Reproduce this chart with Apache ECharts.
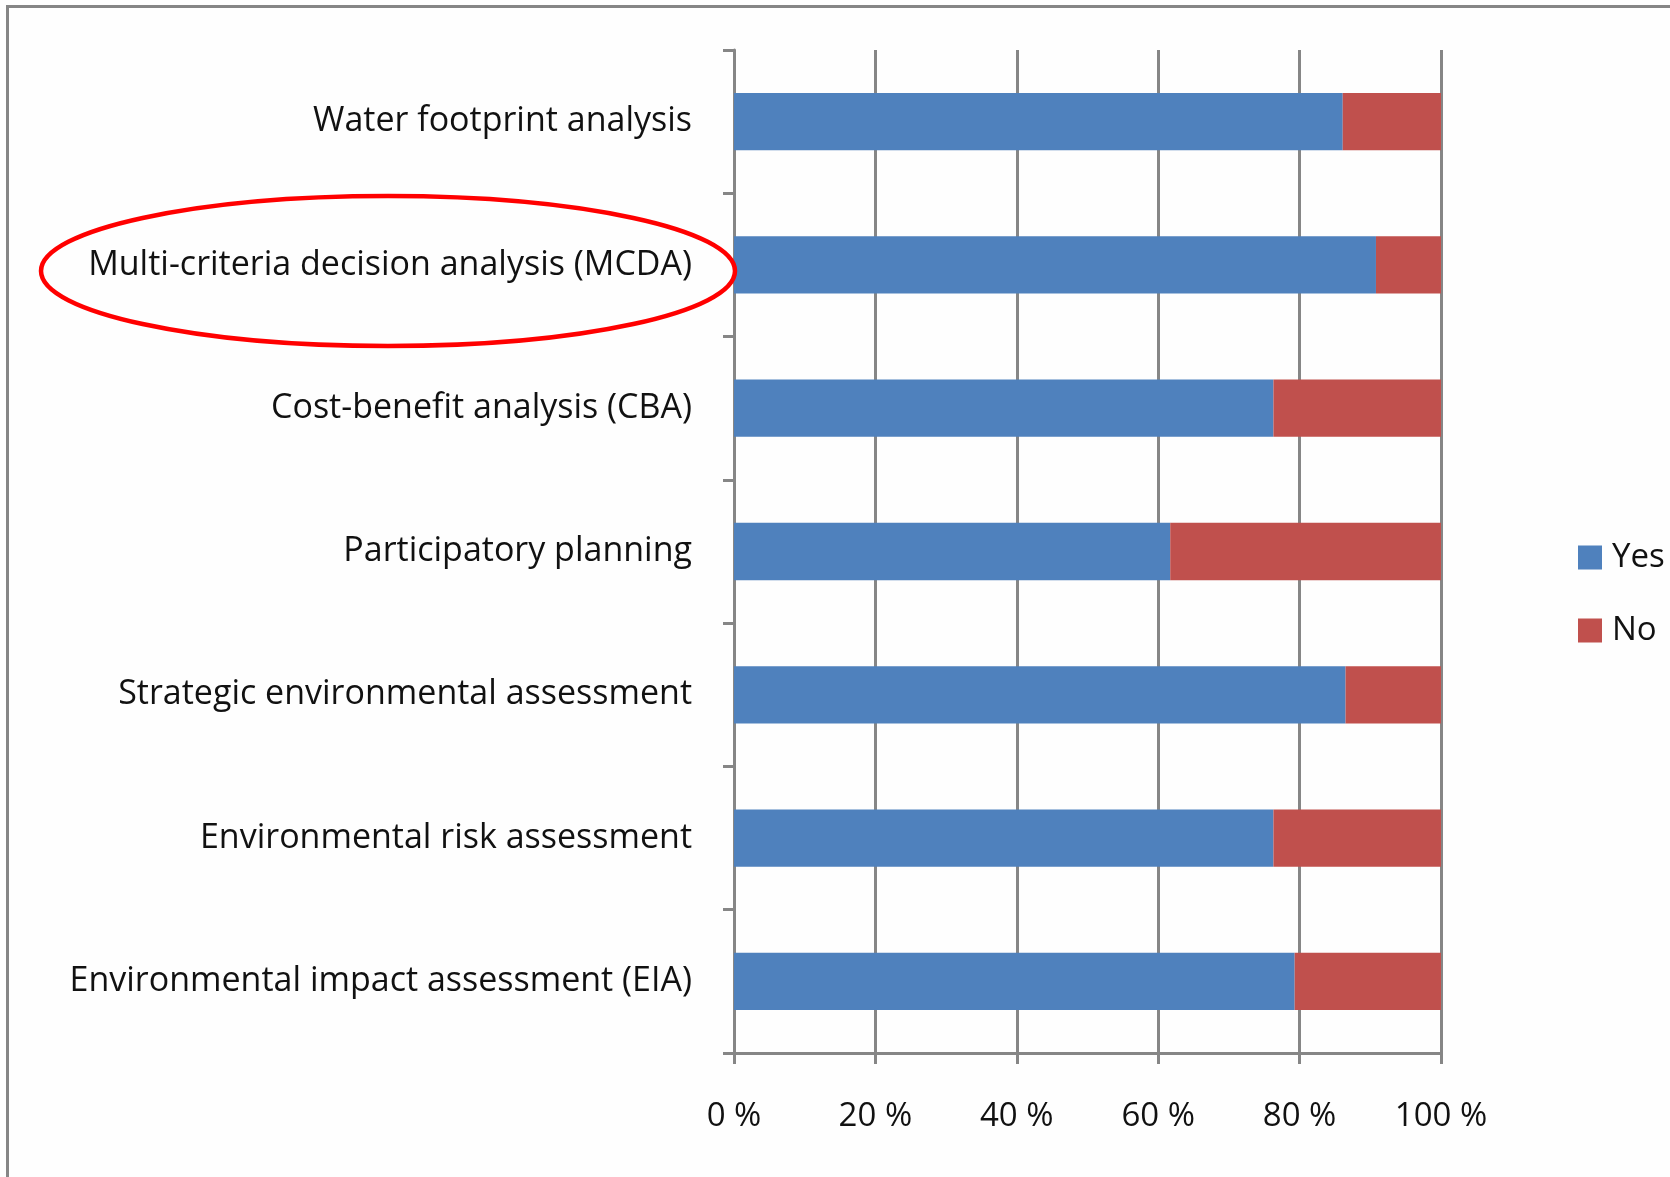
<!DOCTYPE html>
<html>
<head>
<meta charset="utf-8">
<script src="https://cdn.jsdelivr.net/npm/echarts@6/dist/echarts.min.js"></script>
<style>
  html, body { margin: 0; padding: 0; background: #fefefe; }
  #chart { width: 1670px; height: 1177px; }
</style>
</head>
<body>
<div id="chart"></div>
<script>
// tools, top to bottom
const categories = [
  'Water footprint analysis',
  'Multi-criteria decision analysis (MCDA)',
  'Cost-benefit analysis (CBA)',
  'Participatory planning',
  'Strategic environmental assessment',
  'Environmental risk assessment',
  'Environmental impact assessment (EIA)'
];
// share of answers, percent
const yesValues = [86.1, 90.8, 76.3, 61.7, 86.5, 76.3, 79.3];
const noValues = [13.9, 9.2, 23.7, 38.3, 13.5, 23.7, 20.7];
const xTicks = [0, 20, 40, 60, 80, 100];

const gray = '#868686';
const font = 'Open Sans';

const chart = echarts.init(document.getElementById('chart'));

chart.setOption({
  backgroundColor: '#fefefe',
  animation: false,
  textStyle: { fontFamily: font, color: '#111' },
  grid: {
    left: 734,
    right: 229,
    top: 50,
    bottom: 124,
    containLabel: false,
    outerBoundsMode: 'none'
  },
  legend: {
    data: ['Yes', 'No'],
    orient: 'vertical',
    left: 1578,
    top: 541,
    padding: 0,
    itemWidth: 24,
    itemHeight: 24,
    itemGap: 40,
    icon: 'rect',
    textStyle: {
      fontFamily: font,
      fontSize: 33,
      color: '#111',
      padding: [0, 0, 0, 5]
    }
  },
  xAxis: {
    type: 'value',
    min: xTicks[0],
    max: xTicks[xTicks.length - 1],
    interval: 20,
    axisLine: { show: true, lineStyle: { color: gray, width: 3 } },
    axisTick: { show: true, length: 11, lineStyle: { color: gray, width: 3 } },
    splitLine: { show: true, lineStyle: { color: gray, width: 3 } },
    axisLabel: {
      formatter: '{value} %',
      fontSize: 33,
      margin: 47,
      color: '#111'
    }
  },
  yAxis: {
    type: 'category',
    inverse: true,
    data: categories,
    axisLine: { show: true, lineStyle: { color: gray, width: 3 } },
    axisTick: { show: true, length: 11, lineStyle: { color: gray, width: 3 } },
    axisLabel: { fontSize: 34, margin: 42, color: '#111', padding: [6, 0, 0, 0] }
  },
  series: [
    {
      name: 'Yes',
      type: 'bar',
      stack: 'total',
      barCategoryGap: '60%',
      itemStyle: { color: '#4f81bd' },
      data: yesValues
    },
    {
      name: 'No',
      type: 'bar',
      stack: 'total',
      barCategoryGap: '60%',
      itemStyle: { color: '#c0504d' },
      data: noValues
    }
  ],
  graphic: [
    {
      type: 'rect',
      silent: true,
      shape: { x: 7.5, y: 6.5, width: 1800, height: 1800 },
      style: { fill: 'none', stroke: gray, lineWidth: 3 }
    },
    {
      type: 'ellipse',
      silent: true,
      z: 100,
      shape: { cx: 388, cy: 271, rx: 347, ry: 75 },
      style: { fill: 'none', stroke: '#ff0000', lineWidth: 4.5 }
    }
  ]
});
</script>
</body>
</html>
